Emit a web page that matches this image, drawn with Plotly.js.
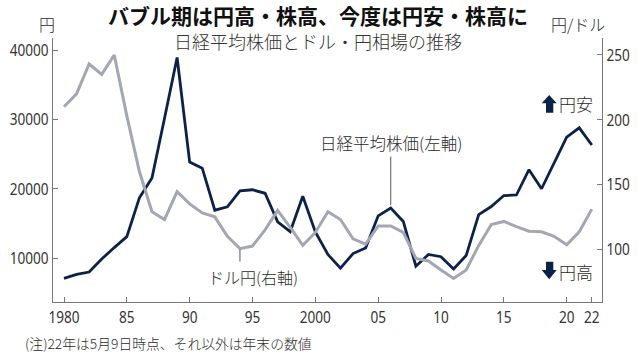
<!DOCTYPE html>
<html>
<head>
<meta charset="utf-8">
<script src="https://cdn.plot.ly/plotly-3.0.1.min.js"></script>
<style>
html,body{margin:0;padding:0;background:#fff;}
#chart{width:638px;height:357px;}
</style>
</head>
<body>
<div id="chart"></div>
<script>
// ---- data ----
const years = [1980,1981,1982,1983,1984,1985,1986,1987,1988,1989,
               1990,1991,1992,1993,1994,1995,1996,1997,1998,1999,
               2000,2001,2002,2003,2004,2005,2006,2007,2008,2009,
               2010,2011,2012,2013,2014,2015,2016,2017,2018,2019,
               2020,2021,2022];
const nikkei = [7116,7682,8017,9894,11543,13113,18701,21564,30159,38916,
                23849,22984,16925,17417,19723,19868,19361,15259,13842,18934,
                13786,10543,8579,10677,11489,16111,17226,15308,8860,10546,
                10229,8455,10395,16291,17451,19034,19114,22765,20015,23657,
                27444,28792,26319];
const usdjpy = [210,220,243,235,250,203,160,129,123,144.5,
                135,128,125,110,100.5,102.5,115,130,117,103,
                113,129,123,108,104,118,118,113,93,91,
                84,77.5,84,103,119,121.5,117.5,114,113.5,110,
                103.5,113.5,131];
const xTickVals = [1980,1985,1990,1995,2000,2005,2010,2015,2020,2022];
const xTickText = ["1980","85","90","95","2000","05","10","15","20","22"];
const yLeftTicks = [10000,20000,30000,40000];
const yRightTicks = [100,150,200,250];

// ---- layout helpers (pixel -> paper) ----
const W = 638, H = 357;
const M = {l:53, r:36, t:38, b:55};
const PW = W - M.l - M.r, PH = H - M.t - M.b;
const px = x => (x - M.l) / PW;
const py = y => (H - M.b - y) / PH;

const NAVY = '#0c2149';
const GRAY = '#a3a7b4';
const AXIS = '#777777';
const TXT = '#2a2a2a';
const NUMFONT = '"Noto Sans",sans-serif';
const JPFONT = '"Noto Sans CJK JP","Noto Sans",sans-serif';

const idx = y => years.indexOf(y);

const traces = [
  {x: years, y: usdjpy, yaxis: 'y2', type: 'scatter', mode: 'lines',
   line: {color: GRAY, width: 3}, hoverinfo: 'skip'},
  {x: years, y: nikkei, yaxis: 'y', type: 'scatter', mode: 'lines',
   line: {color: NAVY, width: 2.8}, hoverinfo: 'skip'}
];

function arrowPath(up) {
  let pts;
  if (up) {
    pts = [[549.2,95],[556.7,103.3],[553.3,103.3],[553.3,112.7],[546,112.7],[546,103.3],[541.7,103.3]];
  } else {
    pts = [[546,261.7],[553.3,261.7],[553.3,270],[556.7,270],[549.2,279.3],[541.7,270],[546,270]];
  }
  return 'M ' + pts.map(p => px(p[0]).toFixed(5) + ',' + py(p[1]).toFixed(5)).join(' L ') + ' Z';
}

const tickFont = {family: NUMFONT, size: 17, color: '#333'};

const layout = {
  width: W, height: H,
  margin: M,
  paper_bgcolor: '#fff', plot_bgcolor: '#fff',
  showlegend: false,
  title: {
    text: 'バブル期は円高・株高、今度は円安・株高に',
    font: {family: JPFONT, size: 21, color: '#111', weight: 'bold'},
    xref: 'paper', x: px(318), xanchor: 'center',
    yref: 'container', y: 1 - 16.5/H, yanchor: 'middle'
  },
  xaxis: {
    range: [1979.125, 2022.81],
    tickvals: xTickVals, ticktext: xTickText,
    ticks: 'inside', ticklen: 5, tickcolor: AXIS, tickwidth: 1,
    showline: true, linecolor: AXIS, linewidth: 1,
    showgrid: false, zeroline: false,
    tickfont: tickFont, fixedrange: true
  },
  yaxis: {
    range: [3703, 41729],
    tickvals: yLeftTicks, tickformat: 'd',
    ticks: 'inside', ticklen: 5, tickcolor: AXIS, tickwidth: 1,
    showline: true, linecolor: AXIS, linewidth: 1,
    showgrid: false, zeroline: false,
    tickfont: tickFont, fixedrange: true
  },
  yaxis2: {
    overlaying: 'y', side: 'right',
    range: [59.3, 263.1],
    tickvals: yRightTicks,
    ticks: 'inside', ticklen: 5, tickcolor: AXIS, tickwidth: 1,
    showline: true, linecolor: AXIS, linewidth: 1,
    showgrid: false, zeroline: false,
    tickfont: tickFont, fixedrange: true
  },
  shapes: [
    {type: 'line', xref: 'x', yref: 'y', ysizemode: 'pixel',
     x0: years[idx(2006)], x1: years[idx(2006)], yanchor: nikkei[idx(2006)], y0: 3, y1: 51.5,
     line: {color: '#555', width: 1}},
    {type: 'line', xref: 'x', yref: 'y2', ysizemode: 'pixel',
     x0: years[idx(1994)], x1: years[idx(1994)], yanchor: usdjpy[idx(1994)], y0: -1, y1: -13,
     line: {color: '#555', width: 1}},
    {type: 'path', xref: 'paper', yref: 'paper', path: arrowPath(true),
     fillcolor: NAVY, line: {width: 0}},
    {type: 'path', xref: 'paper', yref: 'paper', path: arrowPath(false),
     fillcolor: NAVY, line: {width: 0}}
  ],
  annotations: [
    {text: '日経平均株価とドル・円相場の推移', xref: 'paper', yref: 'paper',
     x: px(318), y: py(40.5), xanchor: 'center', yanchor: 'middle', showarrow: false,
     font: {family: JPFONT, size: 18, color: '#333', weight: 300}},
    {text: '円', xref: 'paper', yref: 'paper', x: px(46.5), y: py(24),
     xanchor: 'center', yanchor: 'middle', showarrow: false,
     font: {family: JPFONT, size: 16, color: TXT, weight: 300}},
    {text: '円/ドル', xref: 'paper', yref: 'paper', x: px(577.5), y: py(24),
     xanchor: 'center', yanchor: 'middle', showarrow: false,
     font: {family: JPFONT, size: 16, color: TXT, weight: 300}},
    {text: '日経平均株価(左軸)', xref: 'paper', yref: 'paper', x: px(391), y: py(143.3),
     xanchor: 'center', yanchor: 'middle', showarrow: false,
     font: {family: JPFONT, size: 16.5, color: TXT, weight: 300}},
    {text: 'ドル円(右軸)', xref: 'paper', yref: 'paper', x: px(253), y: py(276.7),
     xanchor: 'center', yanchor: 'middle', showarrow: false,
     font: {family: JPFONT, size: 16, color: TXT, weight: 300}},
    {text: '円安', xref: 'paper', yref: 'paper', x: px(557), y: py(103.3),
     xanchor: 'left', yanchor: 'middle', showarrow: false,
     font: {family: JPFONT, size: 17, color: TXT, weight: 300}},
    {text: '円高', xref: 'paper', yref: 'paper', x: px(557), y: py(271.7),
     xanchor: 'left', yanchor: 'middle', showarrow: false,
     font: {family: JPFONT, size: 17, color: TXT, weight: 300}},
    {text: '(注)22年は5月9日時点、それ以外は年末の数値', xref: 'paper', yref: 'paper',
     x: px(168), y: py(343), xanchor: 'center', yanchor: 'middle', showarrow: false,
     font: {family: JPFONT, size: 13.8, color: TXT, weight: 300}}
  ]
};

Plotly.newPlot('chart', traces, layout, {staticPlot: true, displayModeBar: false}).then(gd => {
  // condense the numeric tick labels like the reference's narrow typeface
  gd.querySelectorAll('.xtick text, .ytick text, .y2tick text').forEach(t => {
    const w = t.getComputedTextLength();
    t.setAttribute('textLength', (w * 0.8).toFixed(2));
    t.setAttribute('lengthAdjust', 'spacingAndGlyphs');
  });
});
</script>
</body>
</html>
